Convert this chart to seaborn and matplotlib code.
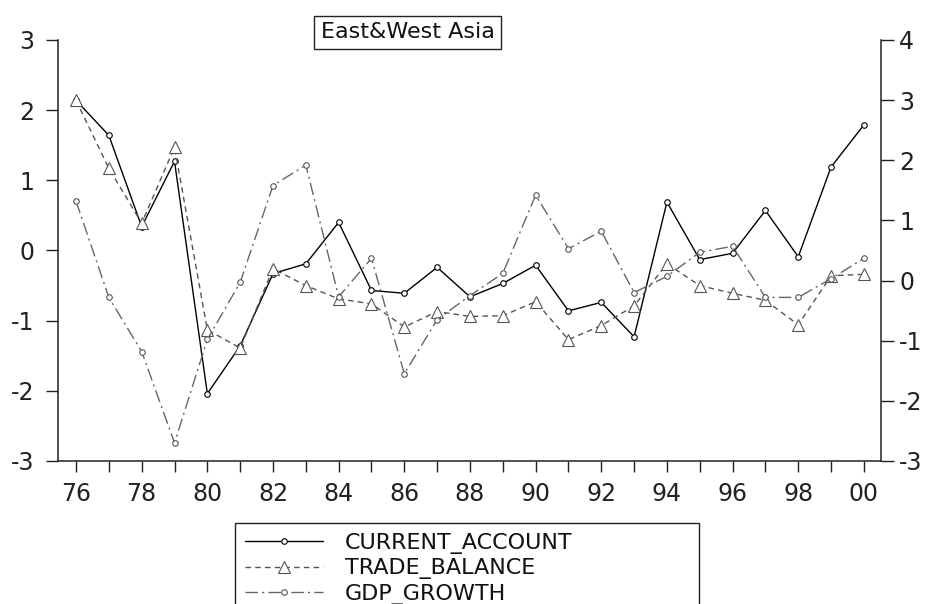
import numpy as np
import seaborn as sns
import matplotlib.pyplot as plt
from matplotlib.ticker import FixedLocator

# values
years = list(range(1976, 2001))
year_labels = [f"{y % 100:02d}" if y % 2 == 0 else "" for y in years]

current_account = [2.14, 1.64, 0.34, 1.27, -2.04, -1.36, -0.33, -0.19, 0.40, -0.57,
                   -0.61, -0.24, -0.66, -0.47, -0.21, -0.86, -0.74, -1.23, 0.69, -0.13,
                   -0.04, 0.57, -0.09, 1.19, 1.79]
trade_balance = [2.14, 1.17, 0.39, 1.47, -1.13, -1.39, -0.26, -0.50, -0.69, -0.76,
                 -1.09, -0.87, -0.94, -0.93, -0.73, -1.27, -1.07, -0.79, -0.19, -0.50,
                 -0.61, -0.71, -1.06, -0.36, -0.34]
gdp_growth = [1.32, -0.28, -1.18, -2.70, -0.98, -0.03, 1.58, 1.92, -0.27, 0.37,
              -1.55, -0.65, -0.25, 0.12, 1.42, 0.53, 0.82, -0.20, 0.07, 0.47,
              0.57, -0.28, -0.28, 0.03, 0.37]

left_ticks = [-3, -2, -1, 0, 1, 2, 3]
right_ticks = [-3, -2, -1, 0, 1, 2, 3, 4]

sns.set_style("ticks")
plt.rcParams['font.family'] = ['DejaVu Sans']

fig = plt.figure(figsize=(9.29, 6.04), dpi=100)
ax = fig.add_axes([0.0624, 0.2368, 0.8859, 0.6970])
ax2 = ax.twinx()

sns.lineplot(x=years, y=current_account, ax=ax, color='black', lw=1.0,
             marker='o', ms=4, mfc='white', mec='black', mew=0.8, legend=False)
sns.lineplot(x=years, y=trade_balance, ax=ax, color='#555555', lw=1.0,
             linestyle=(0, (4, 3)), marker='^', ms=8, mfc='white', mec='#555555',
             mew=0.8, legend=False)
sns.lineplot(x=years, y=gdp_growth, ax=ax2, color='#666666', lw=1.0,
             linestyle=(0, (9, 3, 1.5, 3)), marker='o', ms=4, mfc='white',
             mec='#555555', mew=0.8, legend=False)

ax.set_xlim(1975.45, 2000.52)
ax.set_ylim(-3, 3)
ax2.set_ylim(-3, 4)

ax.xaxis.set_major_locator(FixedLocator(years))
ax.set_xticklabels(year_labels)
ax.set_yticks(left_ticks)
ax.set_yticklabels([str(t) for t in left_ticks])
ax2.set_yticks(right_ticks)
ax2.set_yticklabels([str(t) for t in right_ticks])

ax.tick_params(axis='x', direction='out', length=8, width=1, pad=7,
               labelsize=17, colors='#222222')
ax.tick_params(axis='y', direction='out', length=9, width=1, pad=8,
               labelsize=17, colors='#222222')
ax2.tick_params(axis='y', direction='out', length=9, width=1, pad=4,
                labelsize=17, colors='#222222')

for a in (ax, ax2):
    a.spines['top'].set_visible(False)
    for s in a.spines.values():
        s.set_color('#222222')
        s.set_linewidth(1.1)
ax.spines['right'].set_visible(False)
ax2.spines['left'].set_visible(False)
ax2.spines['bottom'].set_visible(False)
ax.set_xlabel('')
ax.set_ylabel('')
ax2.set_ylabel('')

fig.text(407.5 / 929, 1 - 32.5 / 604, 'East&West Asia', ha='center', va='center',
         fontsize=16, color='#111111',
         bbox=dict(boxstyle='square,pad=0.3', fc='white', ec='#222222', lw=1))

handles = [ax.lines[0], ax.lines[1], ax2.lines[0]]
labels = ['CURRENT_ACCOUNT', 'TRADE_BALANCE', 'GDP_GROWTH']
leg = fig.legend(handles, labels, loc='upper left',
                 bbox_to_anchor=(235 / 929, 0, (699 - 235) / 929, 1 - 523 / 604),
                 mode='expand', borderaxespad=0, fontsize=16, numpoints=1,
                 handlelength=3.5, handletextpad=1.0, labelspacing=0.2,
                 borderpad=0.45, fancybox=False, framealpha=1,
                 edgecolor='#222222')
leg.get_frame().set_linewidth(1)
for t in leg.get_texts():
    t.set_color('#111111')

fig.savefig('out.png', dpi=100)
